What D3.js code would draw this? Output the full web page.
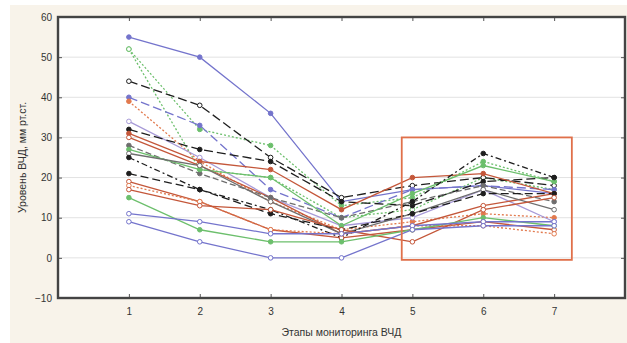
<!DOCTYPE html>
<html><head><meta charset="utf-8">
<script src="https://cdn.jsdelivr.net/npm/d3@7"></script>
<style>body{margin:0;background:#fff}svg{display:block}text{font-family:"Liberation Sans",Arial,sans-serif}</style>
</head><body>
<svg id="c" width="627" height="343"></svg>
<script>
const stages = [1,2,3,4,5,6,7];
const yTicks = [-10,0,10,20,30,40,50,60];
const xTicks = [1,2,3,4,5,6,7];
const yTitle = "Уровень ВЧД, мм рт.ст.";
const xTitle = "Этапы мониторинга ВЧД";
const box = {x0:4.85, x1:7.25, y0:-0.5, y1:30};

// series values at stages 1..7
const s01 = [55,50,36,14,17,18,16];
const s02 = [52,32,28,13,15,24,19];
const s03 = [52,22,20,10,12,20,17];
const s04 = [44,38,25,15,18,20,18];
const s05 = [40,33,17,10,17,18,17];
const s06 = [39,24,14,7,9,11,10];
const s07 = [34,25,15,8,10,17,9];
const s08 = [32,27,24,14,13,19,20];
const s09 = [31,24,22,12,20,21,16];
const s10 = [30,23,15,6,8,13,16];
const s11 = [28,21,15,10,14,18,14];
const s12 = [27,22,20,8,16,23,19];
const s13 = [26,23,14,6,11,17,12];
const s14 = [25,17,12,5,14,26,20];
const s15 = [21,17,11,7,11,16,16];
const s16 = [19,14,7,5,7,9,7];
const s17 = [18,14,7,6,8,8,6];
const s18 = [17,13,12,7,4,12,15];
const s19 = [15,7,4,4,7,10,8];
const s20 = [11,9,6,6,8,9,9];
const s21 = [9,4,0,0,7,8,8];

const BLUE="#7474cc", GREEN="#6cbf6c", BLACK="#1e1e1e", RED="#c4573a", ORANGE="#e27a4e", GRAY="#6e6e6e", LAV="#a79ad8";
const series = [
 {v:s01,c:BLUE,d:null,f:true},
 {v:s02,c:GREEN,d:"2,2",f:true},
 {v:s03,c:GREEN,d:"2,2",f:false},
 {v:s04,c:BLACK,d:"9,4",f:false},
 {v:s05,c:BLUE,d:"9,4",f:true},
 {v:s06,c:ORANGE,d:"2,2",f:true},
 {v:s07,c:LAV,d:null,f:false},
 {v:s08,c:BLACK,d:"9,4",f:true},
 {v:s09,c:RED,d:null,f:true},
 {v:s10,c:RED,d:null,f:false},
 {v:s11,c:GRAY,d:"6,3",f:true},
 {v:s12,c:GREEN,d:null,f:true},
 {v:s13,c:GRAY,d:null,f:false},
 {v:s14,c:BLACK,d:"6,3,2,3",f:true},
 {v:s15,c:BLACK,d:"8,4",f:true},
 {v:s16,c:RED,d:null,f:false},
 {v:s17,c:ORANGE,d:"2,2",f:false},
 {v:s18,c:RED,d:null,f:false},
 {v:s19,c:GREEN,d:null,f:true},
 {v:s20,c:BLUE,d:null,f:false},
 {v:s21,c:BLUE,d:null,f:false}
];

const svg = d3.select("#c");
const L=58,T=17,R=625,B=298;
svg.append("rect").attr("x",10).attr("y",5).attr("width",617).attr("height",338).attr("fill","#f8f3ea");
svg.append("rect").attr("x",L).attr("y",T).attr("width",R-L).attr("height",B-T).attr("fill","#fff");

const x = d3.scaleLinear().domain([0,8]).range([L,R]);
const y = d3.scaleLinear().domain([-10,60]).range([B,T]);

// grid
svg.append("g").selectAll("line").data(yTicks.slice(1,-1)).join("line")
 .attr("x1",L).attr("x2",R).attr("y1",d=>y(d)).attr("y2",d=>y(d))
 .attr("stroke","#e2e2e2").attr("stroke-width",1);

// axes
const ax = (g)=>g.selectAll(".domain").remove();
svg.append("g").attr("transform",`translate(${L},0)`)
 .call(d3.axisLeft(y).tickValues(yTicks).tickSize(-4).tickPadding(6).tickFormat(d3.format("d")))
 .call(ax).call(g=>g.selectAll("text").attr("font-size",10).attr("fill","#333"))
 .call(g=>g.selectAll("line").attr("stroke","#555"));
svg.append("g").attr("transform",`translate(${R},0)`)
 .call(d3.axisRight(y).tickValues(yTicks).tickSize(-4).tickFormat(""))
 .call(ax).call(g=>g.selectAll("line").attr("stroke","#555"));
svg.append("g").attr("transform",`translate(0,${B})`)
 .call(d3.axisBottom(x).tickValues(xTicks).tickSize(-4).tickPadding(10).tickFormat(d3.format("d")))
 .call(ax).call(g=>g.selectAll("text").attr("font-size",10).attr("fill","#333"))
 .call(g=>g.selectAll("line").attr("stroke","#555"));
svg.append("g").attr("transform",`translate(0,${T})`)
 .call(d3.axisTop(x).tickValues(xTicks).tickSize(-4).tickFormat(""))
 .call(ax).call(g=>g.selectAll("line").attr("stroke","#555"));

// lines
const line = d3.line().x((d,i)=>x(stages[i])).y(d=>y(d));
const gL = svg.append("g");
series.forEach(s=>{
  gL.append("path").attr("d",line(s.v)).attr("fill","none").attr("stroke",s.c)
    .attr("stroke-width",1.3).attr("stroke-dasharray",s.d);
});
series.forEach(s=>{
  gL.append("g").selectAll("circle").data(s.v).join("circle")
   .attr("cx",(d,i)=>x(stages[i])).attr("cy",d=>y(d)).attr("r",2.3)
   .attr("fill",s.f?s.c:"#fff").attr("stroke",s.c).attr("stroke-width",1);
});

// red box
svg.append("rect").attr("x",x(box.x0)).attr("y",y(box.y1))
 .attr("width",x(box.x1)-x(box.x0)).attr("height",y(box.y0)-y(box.y1))
 .attr("fill","none").attr("stroke","#e0704a").attr("stroke-width",1.8);

// frame
svg.append("rect").attr("x",L).attr("y",T).attr("width",R-L).attr("height",B-T)
 .attr("fill","none").attr("stroke","#444").attr("stroke-width",2.4);

// titles
svg.append("text").attr("x",x(4)).attr("y",336).attr("text-anchor","middle")
 .attr("font-size",10.5).attr("fill","#333").text(xTitle);
svg.append("text").attr("transform",`translate(26,${(T+B)/2}) rotate(-90)`).attr("text-anchor","middle")
 .attr("font-size",10.5).attr("fill","#333").text(yTitle);
</script>
</body></html>
